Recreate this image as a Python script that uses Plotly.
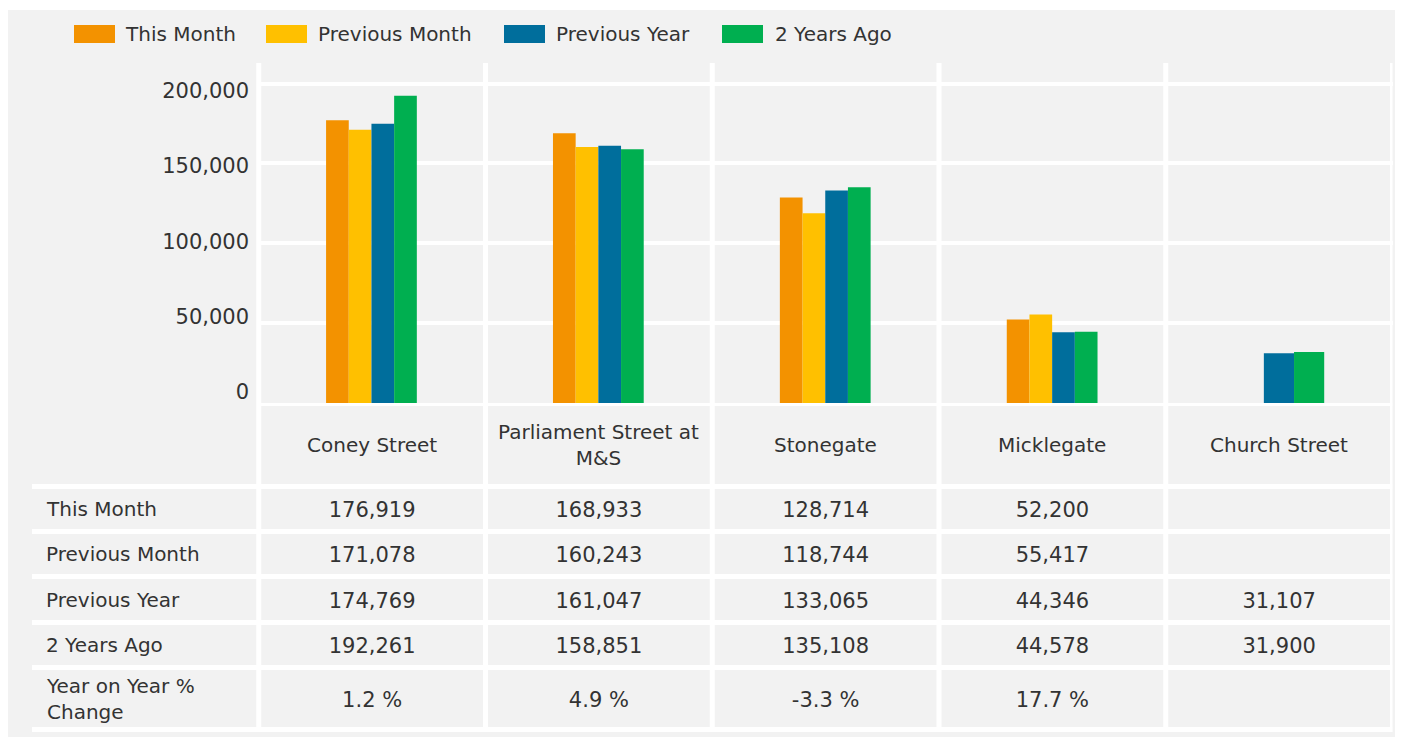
import textwrap
import plotly.graph_objects as go

# ---------------- data ----------------
categories = ["Coney Street", "Parliament Street at M&S", "Stonegate", "Micklegate", "Church Street"]
series_names = ["This Month", "Previous Month", "Previous Year", "2 Years Ago"]
this_month = [176919, 168933, 128714, 52200, None]
previous_month = [171078, 160243, 118744, 55417, None]
previous_year = [174769, 161047, 133065, 44346, 31107]
two_years_ago = [192261, 158851, 135108, 44578, 31900]
yoy_label = "Year on Year % Change"
yoy_change = [1.2, 4.9, -3.3, 17.7, None]
y_ticks = [0, 50000, 100000, 150000, 200000]

# ---------------- style ----------------
colors = ["#F39200", "#FFC000", "#006E9C", "#00AF50"]
BG = "#f2f2f2"
TXT = "#333333"
FONT = "DejaVu Sans"
# bar placement (fraction of a category slot)
bar_offset = [[-0.2] * 5, [-0.1] * 5, [0, 0, 0, 0, -0.067], [0.1, 0.1, 0.1, 0.1, 0.066]]
bar_width = [[0.1] * 5, [0.1] * 5, [0.1] * 4 + [0.133], [0.1] * 4 + [0.133]]
# table row heights in px (header incl. top border, then data rows)
row_heights = [83.5, 45, 45, 46, 45, 62]
TEXT_DY = 3  # small downward nudge for value text

W, H = 1390, 729
OX, OY = 8, 8  # page offset of the figure (body margin)


def px(x):
    return (x - OX) / W


def py(y):
    return 1 - (y - OY) / H


series_values = [this_month, previous_month, previous_year, two_years_ago]
xs = list(range(len(categories)))

fig = go.Figure()

for name, vals, col, off, wid in zip(series_names, series_values, colors, bar_offset, bar_width):
    fig.add_trace(go.Bar(
        x=xs, y=vals, name=name, marker=dict(color=col, line=dict(width=0)),
        offset=off, width=wid, xaxis="x", yaxis="y", showlegend=False,
        hoverinfo="skip",
    ))

# ----- table (drawn on x2 / y2) -----
bounds = [0]
for h in row_heights:
    bounds.append(bounds[-1] + h)
centers = [(bounds[i] + bounds[i + 1]) / 2 for i in range(len(row_heights))]

cell_x, cell_y, cell_t = [], [], []
for r, vals in enumerate(series_values):
    for c, v in enumerate(vals):
        cell_x.append(c)
        cell_y.append(centers[r + 1] + TEXT_DY)
        cell_t.append(f"{v:,}" if v is not None else "")
for c, v in enumerate(yoy_change):
    cell_x.append(c)
    cell_y.append(centers[len(series_values) + 1] + TEXT_DY)
    cell_t.append(f"{v:.1f} %" if v is not None else "")

fig.add_trace(go.Scatter(
    x=cell_x, y=cell_y, text=cell_t, mode="text", textposition="middle center",
    textfont=dict(family=FONT, size=21, color=TXT), xaxis="x2", yaxis="y2",
    showlegend=False, hoverinfo="skip",
))

# invisible trace so the label axis is drawn
fig.add_trace(go.Scatter(x=[None], y=[None], xaxis="x", yaxis="y3", showlegend=False, hoverinfo="skip"))

annotations = []
for c, cat in enumerate(categories):
    annotations.append(dict(
        x=c, y=centers[0], xref="x2", yref="y2", text="<br>".join(textwrap.wrap(cat, 21)),
        showarrow=False, xanchor="center", yanchor="middle", align="center",
        font=dict(family=FONT, size=20, color=TXT),
    ))
row_labels = series_names + [yoy_label]
for r, lab in enumerate(row_labels):
    annotations.append(dict(
        x=-1.5 + 12 / 226.7, y=centers[r + 1], xref="x2", yref="y2",
        text="<br>".join(textwrap.wrap(lab, 15)),
        showarrow=False, xanchor="left", yanchor="middle", align="left",
        font=dict(family=FONT, size=20, color=TXT),
    ))

# custom legend
leg_sw_x = [74, 266, 504, 722]
leg_tx_x = [123, 316, 554, 773]
shapes = []
for name, col, sx, tx in zip(series_names, colors, leg_sw_x, leg_tx_x):
    shapes.append(dict(type="rect", xref="paper", yref="paper", x0=px(sx), x1=px(sx + 41),
                       y0=py(43), y1=py(25), fillcolor=col, line=dict(width=0)))
    annotations.append(dict(x=px(tx), y=py(34), xref="paper", yref="paper", text=name,
                            showarrow=False, xanchor="left", yanchor="middle",
                            font=dict(family=FONT, size=20, color=TXT)))

# top white strip (panel begins 2px lower)
shapes.append(dict(type="rect", xref="paper", yref="paper", x0=0, x1=1, y0=py(10), y1=1.01,
                   fillcolor="white", line=dict(width=0), layer="below"))

# vertical separators
for k in range(len(categories) + 1):
    shapes.append(dict(type="line", xref="x2", yref="paper", x0=k - 0.5, x1=k - 0.5,
                       y0=py(732), y1=py(63), line=dict(color="white", width=5)))
# horizontal table lines
for b in bounds[1:]:
    shapes.append(dict(type="line", xref="x2", yref="y2", x0=-1.5, x1=len(categories) - 0.5,
                       y0=b, y1=b, line=dict(color="white", width=5)))
# baseline of bar area
shapes.append(dict(type="line", xref="x2", yref="y2", x0=-0.5, x1=len(categories) - 0.5,
                   y0=0, y1=0, line=dict(color="white", width=6)))

grid_scale = 319.5 / 200000  # px per unit for bars
label_scale = 301.5 / 200000

fig.update_layout(
    width=W, height=H, autosize=False,
    margin=dict(l=0, r=0, t=0, b=0, pad=0),
    paper_bgcolor=BG, plot_bgcolor=BG,
    barmode="overlay",
    font=dict(family=FONT, size=20, color=TXT),
    xaxis=dict(domain=[px(258), px(1392.5)], range=[-0.5, len(categories) - 0.5],
               showgrid=False, showticklabels=False, zeroline=False, anchor="y", fixedrange=True),
    yaxis=dict(domain=[py(403), py(63)], range=[0, (403 - 63) / grid_scale], anchor="x",
               tickvals=y_ticks, showgrid=True, gridcolor="white", gridwidth=4,
               showticklabels=False, zeroline=False, fixedrange=True),
    yaxis3=dict(domain=[py(403), py(63)], overlaying="y", anchor="x", side="left",
                range=[-(403 - 392) / label_scale, (392 - 63) / label_scale],
                tickvals=y_ticks, ticktext=[f"{t:,}" for t in y_ticks],
                showgrid=False, zeroline=False, ticks="", ticklabelstandoff=8,
                tickfont=dict(family=FONT, size=21, color=TXT), fixedrange=True),
    xaxis2=dict(domain=[px(32), px(1392.5)], range=[-1.5, len(categories) - 0.5], anchor="y2",
                showgrid=False, showticklabels=False, zeroline=False, fixedrange=True),
    yaxis2=dict(domain=[py(732), py(403)], range=[732 - 403, 0], anchor="x2",
                showgrid=False, showticklabels=False, zeroline=False, fixedrange=True),
    shapes=shapes,
    annotations=annotations,
)

fig.write_html("out.html")
